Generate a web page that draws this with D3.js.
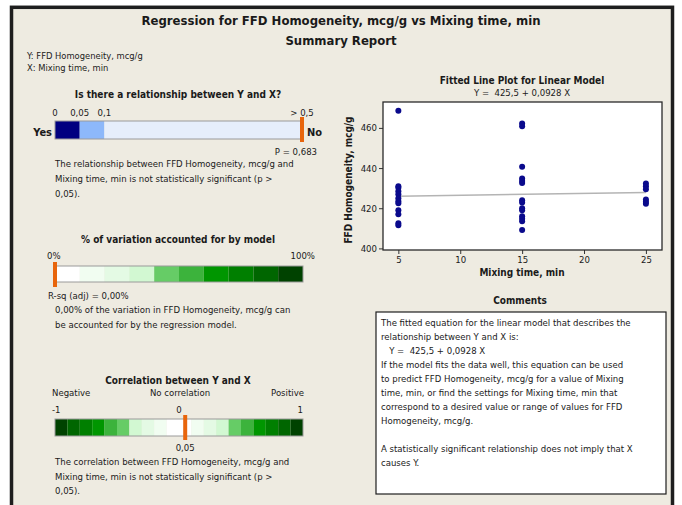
<!DOCTYPE html>
<html>
<head>
<meta charset="utf-8">
<script src="https://cdn.jsdelivr.net/npm/d3@7"></script>
<style>
  body { margin: 0; background: #ffffff; }
  svg text { font-family: "DejaVu Sans Condensed", "DejaVu Sans", sans-serif; fill: #1a1a1a; }
  .b { font-weight: bold; }
</style>
</head>
<body>
<div id="chart"></div>
<script>
// Scatter data
const mixingTime = [
  5, 5, 5, 5, 5, 5, 5, 5, 5, 5, 5, 5,
  15, 15, 15, 15, 15, 15, 15, 15, 15, 15, 15, 15, 15, 15,
  25, 25, 25, 25, 25, 25
];
const homogeneity = [
  468.5, 431, 430.2, 428.5, 427, 425, 423.5, 422.5, 419, 417, 412.5, 411.5,
  462.2, 460.8, 440.6, 434.8, 433.6, 432.6, 424, 422.8, 420, 419, 416, 414.8, 413.5, 409.2,
  432.3, 431, 429.5, 424.4, 423.2, 422.2
];
const intercept = 425.5;
const slope = 0.0928;
const xTicks = [5, 10, 15, 20, 25];
const yTicks = [400, 420, 440, 460];

// p-value bar
const pValue = 0.683;
const pBands = [0, 0.05, 0.1, 0.5];
const pBandColors = ['#000080', '#8db8fa', '#e6eefb'];
const pTickValues = [0, 0.05, 0.1];

// R-sq bar
const rsqAdj = 0;
const rsqColors = ['#ffffff', '#f1fdf1', '#e4fae4', '#d2f8d2', '#66cc66', '#3cb33c', '#009600', '#007f00', '#006600', '#004200'];

// correlation bar
const correlation = 0.05;
const corrColors = ['#004200', '#006600', '#007f00', '#009600', '#3cb33c', '#66cc66', '#d2f8d2', '#e4fae4', '#f1fdf1', '#ffffff',
                    '#ffffff', '#f1fdf1', '#e4fae4', '#d2f8d2', '#66cc66', '#3cb33c', '#009600', '#007f00', '#006600', '#004200'];

const pText = [
  'The relationship between FFD Homogeneity, mcg/g and',
  'Mixing time, min is not statistically significant (p >',
  '0,05).'
];
const rsqText = [
  '0,00% of the variation in FFD Homogeneity, mcg/g can',
  'be accounted for by the regression model.'
];
const corrText = [
  'The correlation between FFD Homogeneity, mcg/g and',
  'Mixing time, min is not statistically significant (p >',
  '0,05).'
];
const comments = [
  'The fitted equation for the linear model that describes the',
  'relationship between Y and X is:',
  '   Y =  425,5 + 0,0928 X',
  'If the model fits the data well, this equation can be used',
  'to predict FFD Homogeneity, mcg/g for a value of Mixing',
  'time, min, or find the settings for Mixing time, min that',
  'correspond to a desired value or range of values for FFD',
  'Homogeneity, mcg/g.',
  '',
  'A statistically significant relationship does not imply that X',
  'causes Y.'
];

const loc = d3.formatLocale({ decimal: ',', thousands: '.', grouping: [3], currency: ['', ''] });

const width = 682;
const height = 505;

const svg = d3.select('#chart')
  .append('svg')
  .attr('width', width)
  .attr('height', height);

// frame
svg.append('rect')
  .attr('x', 11.5).attr('y', 7.3)
  .attr('width', 661).attr('height', 520)
  .attr('fill', '#eeebe1')
  .attr('stroke', '#1e1e1e')
  .attr('stroke-width', 3.5);

// header
svg.append('text').attr('class', 'b').attr('x', 341).attr('y', 25)
  .attr('text-anchor', 'middle').style('font-size', '13px')
  .text('Regression for FFD Homogeneity, mcg/g vs Mixing time, min');
svg.append('text').attr('class', 'b').attr('x', 341).attr('y', 45)
  .attr('text-anchor', 'middle').style('font-size', '13px')
  .text('Summary Report');
svg.append('text').attr('x', 27).attr('y', 59).style('font-size', '9.3px')
  .text('Y: FFD Homogeneity, mcg/g');
svg.append('text').attr('x', 27).attr('y', 71).style('font-size', '9.3px')
  .text('X: Mixing time, min');

const addLines = (lines, x, y0, step) => {
  lines.forEach((t, i) => {
    svg.append('text').attr('x', x).attr('y', y0 + i * step)
      .style('font-size', '9.5px').style('white-space', 'pre').text(t);
  });
};

const orange = '#e8650c';

// ---- Panel 1: p-value ----
const px = d3.scaleLinear().domain([0, 0.5]).range([55, 302]).clamp(true);
svg.append('text').attr('class', 'b').attr('x', 178).attr('y', 98)
  .attr('text-anchor', 'middle').style('font-size', '10px')
  .text('Is there a relationship between Y and X?');

svg.append('g')
  .selectAll('rect')
  .data(pBandColors)
  .join('rect')
  .attr('x', (d, i) => px(pBands[i]))
  .attr('y', 121)
  .attr('width', (d, i) => px(pBands[i + 1]) - px(pBands[i]))
  .attr('height', 18)
  .attr('fill', (d) => d);
svg.append('rect').attr('x', px(0)).attr('y', 121)
  .attr('width', px(0.5) - px(0)).attr('height', 18)
  .attr('fill', 'none').attr('stroke', '#9a9a9a');

svg.append('g')
  .selectAll('text')
  .data(pTickValues)
  .join('text')
  .attr('x', (d) => px(d))
  .attr('y', 116)
  .attr('text-anchor', 'middle')
  .style('font-size', '9.5px')
  .text((d) => loc.format('~g')(d));
svg.append('text').attr('x', px(0.5)).attr('y', 116)
  .attr('text-anchor', 'middle').style('font-size', '9.5px').text('> 0,5');

svg.append('text').attr('class', 'b').attr('x', 52).attr('y', 136)
  .attr('text-anchor', 'end').style('font-size', '11px').text('Yes');
svg.append('text').attr('class', 'b').attr('x', 307).attr('y', 136)
  .style('font-size', '11px').text('No');

svg.append('rect').attr('x', px(pValue) - 2).attr('y', 117)
  .attr('width', 4).attr('height', 25).attr('fill', orange);
svg.append('text').attr('x', 317).attr('y', 155)
  .attr('text-anchor', 'end').style('font-size', '9.5px')
  .text('P = ' + loc.format('.3f')(pValue));
addLines(pText, 55, 167, 15);

// ---- Panel 2: R-sq ----
const rx = d3.scaleLinear().domain([0, 100]).range([55, 303]);
svg.append('text').attr('class', 'b').attr('x', 178).attr('y', 243)
  .attr('text-anchor', 'middle').style('font-size', '10px')
  .text('% of variation accounted for by model');
svg.append('text').attr('x', 47).attr('y', 259).style('font-size', '9.5px').text('0%');
svg.append('text').attr('x', 315).attr('y', 259).attr('text-anchor', 'end')
  .style('font-size', '9.5px').text('100%');

svg.append('g')
  .selectAll('rect')
  .data(rsqColors)
  .join('rect')
  .attr('x', (d, i) => rx(i * 10))
  .attr('y', 266)
  .attr('width', rx(10) - rx(0))
  .attr('height', 16)
  .attr('fill', (d) => d);
svg.append('rect').attr('x', rx(0)).attr('y', 266)
  .attr('width', rx(100) - rx(0)).attr('height', 16)
  .attr('fill', 'none').attr('stroke', '#9a9a9a');
svg.append('rect').attr('x', rx(rsqAdj) - 2).attr('y', 262)
  .attr('width', 4).attr('height', 25).attr('fill', orange);
svg.append('text').attr('x', 48).attr('y', 299).style('font-size', '9.5px')
  .text('R-sq (adj) = ' + loc.format('.2f')(rsqAdj) + '%');
addLines(rsqText, 55, 313, 15);

// ---- Panel 3: correlation ----
const cx = d3.scaleLinear().domain([-1, 1]).range([55, 303]);
svg.append('text').attr('class', 'b').attr('x', 178).attr('y', 384)
  .attr('text-anchor', 'middle').style('font-size', '10px')
  .text('Correlation between Y and X');
svg.append('text').attr('x', 52).attr('y', 396).style('font-size', '9.5px').text('Negative');
svg.append('text').attr('x', 180).attr('y', 396).attr('text-anchor', 'middle')
  .style('font-size', '9.5px').text('No correlation');
svg.append('text').attr('x', 304).attr('y', 396).attr('text-anchor', 'end')
  .style('font-size', '9.5px').text('Positive');
svg.append('text').attr('x', 52).attr('y', 413).style('font-size', '9.5px').text('-1');
svg.append('text').attr('x', cx(0)).attr('y', 413).attr('text-anchor', 'middle')
  .style('font-size', '9.5px').text('0');
svg.append('text').attr('x', 303).attr('y', 413).attr('text-anchor', 'end')
  .style('font-size', '9.5px').text('1');

svg.append('g')
  .selectAll('rect')
  .data(corrColors)
  .join('rect')
  .attr('x', (d, i) => cx(-1 + i * 0.1))
  .attr('y', 419)
  .attr('width', cx(0.1) - cx(0))
  .attr('height', 17)
  .attr('fill', (d) => d);
svg.append('rect').attr('x', cx(-1)).attr('y', 419)
  .attr('width', cx(1) - cx(-1)).attr('height', 17)
  .attr('fill', 'none').attr('stroke', '#9a9a9a');
svg.append('rect').attr('x', cx(correlation) - 2).attr('y', 415)
  .attr('width', 4).attr('height', 25).attr('fill', orange);
svg.append('text').attr('x', cx(correlation)).attr('y', 451).attr('text-anchor', 'middle')
  .style('font-size', '9.5px').text(loc.format('.2f')(correlation));
addLines(corrText, 55, 465, 14.5);

// ---- Fitted line plot ----
const plot = { left: 383, right: 662, top: 102, bottom: 250 };
const x = d3.scaleLinear().domain([3.76, 26.3]).range([plot.left, plot.right]);
const y = d3.scaleLinear().domain([399.2, 472.9]).range([plot.bottom, plot.top]);

svg.append('text').attr('class', 'b').attr('x', 522).attr('y', 84)
  .attr('text-anchor', 'middle').style('font-size', '10px')
  .text('Fitted Line Plot for Linear Model');
svg.append('text').attr('x', 522).attr('y', 96)
  .attr('text-anchor', 'middle').style('font-size', '9.5px').style('white-space', 'pre')
  .text('Y =  ' + loc.format('.1f')(intercept) + ' + ' + loc.format('.4f')(slope) + ' X');

svg.append('rect').attr('x', plot.left).attr('y', plot.top)
  .attr('width', plot.right - plot.left).attr('height', plot.bottom - plot.top)
  .attr('fill', '#ffffff');

const xAxis = (g) =>
  g.attr('transform', `translate(0, ${plot.bottom})`)
    .call(d3.axisBottom(x).tickValues(xTicks).tickSize(4).tickSizeOuter(0).tickPadding(2))
    .call((g) => g.select('.domain').remove())
    .call((g) => g.selectAll('.tick line').attr('stroke', '#333'))
    .call((g) => g.selectAll('.tick text').style('font-size', '9.5px')
      .style('font-family', '"DejaVu Sans Condensed", sans-serif').attr('fill', '#1a1a1a'));

const yAxis = (g) =>
  g.attr('transform', `translate(${plot.left}, 0)`)
    .call(d3.axisLeft(y).tickValues(yTicks).tickSize(4).tickSizeOuter(0).tickPadding(2))
    .call((g) => g.select('.domain').remove())
    .call((g) => g.selectAll('.tick line').attr('stroke', '#333'))
    .call((g) => g.selectAll('.tick text').style('font-size', '9.5px')
      .style('font-family', '"DejaVu Sans Condensed", sans-serif').attr('fill', '#1a1a1a'));

svg.append('g').call(xAxis);
svg.append('g').call(yAxis);

// fitted line
const line = d3.line().x((d) => x(d)).y((d) => y(intercept + slope * d));
svg.append('path')
  .datum(d3.extent(mixingTime))
  .attr('fill', 'none')
  .attr('stroke', '#b4b4b4')
  .attr('stroke-width', 1.5)
  .attr('d', line);

svg.append('g')
  .selectAll('circle')
  .data(mixingTime)
  .join('circle')
  .attr('cx', (d) => x(d))
  .attr('cy', (d, i) => y(homogeneity[i]))
  .attr('r', 3)
  .attr('fill', '#0a0a8c');

svg.append('rect').attr('x', plot.left).attr('y', plot.top)
  .attr('width', plot.right - plot.left).attr('height', plot.bottom - plot.top)
  .attr('fill', 'none').attr('stroke', '#2a2a2a').attr('stroke-width', 1.3);

svg.append('text').attr('class', 'b').attr('x', 522).attr('y', 276)
  .attr('text-anchor', 'middle').style('font-size', '10px')
  .text('Mixing time, min');
svg.append('text').attr('class', 'b')
  .attr('transform', `translate(352, ${(plot.top + plot.bottom) / 2 + 4}) rotate(-90)`)
  .attr('text-anchor', 'middle').style('font-size', '10px')
  .text('FFD Homogeneity, mcg/g');

// ---- Comments ----
svg.append('text').attr('class', 'b').attr('x', 520).attr('y', 304)
  .attr('text-anchor', 'middle').style('font-size', '10px').text('Comments');
svg.append('rect').attr('x', 376).attr('y', 312).attr('width', 290).attr('height', 182)
  .attr('fill', '#ffffff').attr('stroke', '#1e1e1e').attr('stroke-width', 1.2);
addLines(comments, 381, 326, 14);
</script>
</body>
</html>
